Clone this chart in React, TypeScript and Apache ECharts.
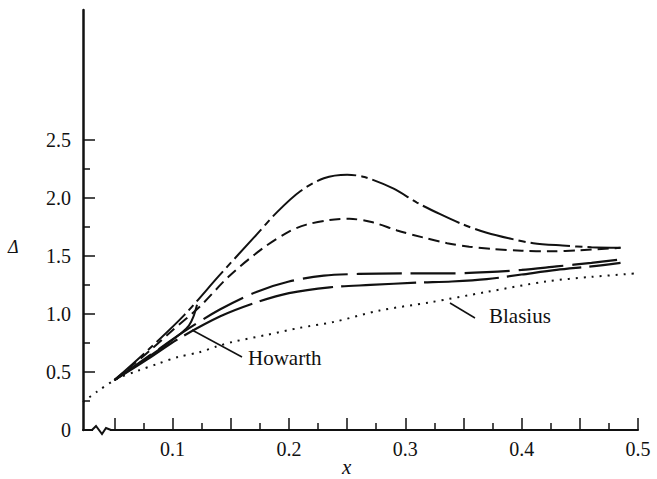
import React, { useEffect, useRef } from "react";
import * as echarts from "echarts";

// ---- data ----
const xMajorTicks = [0.05, 0.1, 0.15, 0.2, 0.25, 0.3, 0.35, 0.4, 0.45, 0.5];
const xMinorTicks = [0.075, 0.125, 0.175, 0.225, 0.275, 0.325, 0.375, 0.425, 0.475];
const xLabelValues = [0.1, 0.2, 0.3, 0.4, 0.5];
const yMajorTicks = [0.5, 1.0, 1.5, 2.0, 2.5];
const yMinorTicks = [0.25, 0.75, 1.25, 1.75, 2.25];
const yLabelValues = [0, 0.5, 1.0, 1.5, 2.0, 2.5];

const chainX = [0.05, 0.08, 0.11, 0.14, 0.17, 0.19, 0.21, 0.23, 0.25, 0.265, 0.29, 0.31, 0.33, 0.35, 0.37, 0.39, 0.41, 0.435, 0.46, 0.485];
const chainY = [0.43, 0.70, 0.99, 1.33, 1.66, 1.88, 2.06, 2.17, 2.20, 2.18, 2.08, 1.96, 1.86, 1.77, 1.70, 1.65, 1.61, 1.59, 1.575, 1.57];

const dashX = [0.05, 0.08, 0.10, 0.123, 0.149, 0.178, 0.20, 0.215, 0.235, 0.252, 0.272, 0.293, 0.315, 0.336, 0.355, 0.375, 0.40, 0.425, 0.45, 0.485];
const dashY = [0.43, 0.68, 0.86, 1.06, 1.33, 1.57, 1.71, 1.77, 1.81, 1.82, 1.79, 1.72, 1.66, 1.61, 1.58, 1.56, 1.545, 1.54, 1.55, 1.57];

const longUpperX = [0.05, 0.08, 0.11, 0.141, 0.172, 0.20, 0.23, 0.26, 0.30, 0.34, 0.37, 0.40, 0.43, 0.46, 0.485];
const longUpperY = [0.43, 0.64, 0.85, 1.04, 1.19, 1.28, 1.33, 1.345, 1.35, 1.35, 1.36, 1.38, 1.41, 1.44, 1.47];

const longLowerX = [0.05, 0.08, 0.104, 0.141, 0.172, 0.20, 0.235, 0.27, 0.31, 0.34, 0.37, 0.40, 0.43, 0.46, 0.485];
const longLowerY = [0.43, 0.62, 0.78, 0.98, 1.10, 1.18, 1.23, 1.25, 1.27, 1.28, 1.30, 1.34, 1.38, 1.41, 1.44];

const blasiusX = [0.023, 0.035, 0.052, 0.07, 0.087, 0.105, 0.123, 0.138, 0.152, 0.181, 0.209, 0.238, 0.278, 0.321, 0.37, 0.421, 0.46, 0.499];
const blasiusY = [0.24, 0.33, 0.44, 0.51, 0.57, 0.63, 0.67, 0.72, 0.76, 0.82, 0.88, 0.93, 1.03, 1.10, 1.19, 1.28, 1.32, 1.35];

const howarthX = [0.05, 0.075, 0.095, 0.108, 0.114, 0.118, 0.121];
const howarthY = [0.43, 0.60, 0.74, 0.84, 0.90, 0.98, 1.08];

const zip = (xs: number[], ys: number[]) => xs.map((x, i) => [x, ys[i]]);

const SERIF = "'Liberation Serif', 'DejaVu Serif', serif";

export default function App() {
  const ref = useRef<HTMLDivElement>(null);
  useEffect(() => {
    if (!ref.current) return;
    const chart = echarts.init(ref.current, undefined, { renderer: "svg" });
    const xMin = 0.023;
    const xMax = 0.5;
    const yMin = 0;
    const yMax = 3.62;
    const black = "#111";
    const lineSeries = (name: string, data: number[][], type: any, width: number) => ({
      name,
      type: "line",
      data,
      showSymbol: false,
      smooth: 0.3,
      silent: true,
      lineStyle: { color: black, width, type, cap: "butt" },
      z: 3,
    });
    chart.setOption({
      animation: false,
      backgroundColor: "#fff",
      grid: { left: 83, right: 19, top: 10, bottom: 49, containLabel: false },
      xAxis: [
        {
          type: "value",
          min: xMin,
          max: xMax,
          position: "bottom",
          axisLine: { show: true, lineStyle: { color: black, width: 2 } },
          axisTick: { show: true, inside: true, length: 12, customValues: xMajorTicks, lineStyle: { color: black, width: 1.5 } },
          axisLabel: {
            show: true,
            customValues: xLabelValues,
            formatter: (v: number) => v.toFixed(1),
            fontFamily: SERIF,
            fontSize: 20,
            color: black,
            margin: 9,
          },
          splitLine: { show: false },
        },
        {
          type: "value",
          min: xMin,
          max: xMax,
          position: "bottom",
          axisLine: { show: false },
          axisTick: { show: true, inside: true, length: 7, customValues: xMinorTicks, lineStyle: { color: black, width: 1.5 } },
          axisLabel: { show: false },
          splitLine: { show: false },
        },
      ],
      yAxis: [
        {
          type: "value",
          min: yMin,
          max: yMax,
          position: "left",
          axisLine: { show: true, lineStyle: { color: black, width: 2.5 } },
          axisTick: { show: true, inside: true, length: 12, customValues: yMajorTicks, lineStyle: { color: black, width: 1.5 } },
          axisLabel: {
            show: true,
            customValues: yLabelValues,
            formatter: (v: number) => (v === 0 ? "0" : v.toFixed(1)),
            fontFamily: SERIF,
            fontSize: 20,
            color: black,
            margin: 12,
          },
          splitLine: { show: false },
        },
        {
          type: "value",
          min: yMin,
          max: yMax,
          position: "left",
          axisLine: { show: false },
          axisTick: { show: true, inside: true, length: 7, customValues: yMinorTicks, lineStyle: { color: black, width: 1.5 } },
          axisLabel: { show: false },
          splitLine: { show: false },
        },
      ],
      series: [
        lineSeries("chain", zip(chainX, chainY), [40, 5, 7, 5], 2),
        lineSeries("dashed", zip(dashX, dashY), [11, 6], 2),
        lineSeries("long dash upper", zip(longUpperX, longUpperY), [45, 9], 2.2),
        lineSeries("long dash lower", zip(longLowerX, longLowerY), [75, 8], 2.2),
        lineSeries("Blasius", zip(blasiusX, blasiusY), [2, 6], 2),
        lineSeries("Howarth", zip(howarthX, howarthY), "solid", 2),
      ],
      graphic: [
        {
          type: "text",
          left: 8,
          top: 238,
          style: { text: "Δ", font: `italic 18px ${SERIF}`, fill: black },
        },
        {
          type: "text",
          left: 342,
          top: 456,
          style: { text: "x", font: `italic 21px ${SERIF}`, fill: black },
        },
        {
          type: "text",
          left: 248,
          top: 347,
          style: { text: "Howarth", font: `21px ${SERIF}`, fill: black },
        },
        {
          type: "text",
          left: 489,
          top: 305,
          style: { text: "Blasius", font: `21px ${SERIF}`, fill: black },
        },
        {
          type: "line",
          shape: { x1: 192, y1: 330, x2: 242, y2: 357 },
          style: { stroke: black, lineWidth: 1.5 },
        },
        {
          type: "line",
          shape: { x1: 450, y1: 303, x2: 475, y2: 318 },
          style: { stroke: black, lineWidth: 1.5 },
        },
        {
          type: "rect",
          shape: { x: 93, y: 428, width: 17, height: 5 },
          style: { fill: "#fff" },
          z: 10,
        },
        {
          type: "polyline",
          shape: { points: [[92, 430], [96, 426], [102, 434], [106, 428], [111, 430]] },
          style: { stroke: black, lineWidth: 2, fill: "none" },
          z: 11,
        },
      ],
    });
    return () => chart.dispose();
  }, []);
  return (
    <div
      ref={ref}
      style={{ position: "fixed", left: 0, top: 0, width: 657, height: 479, background: "#fff" }}
    />
  );
}
